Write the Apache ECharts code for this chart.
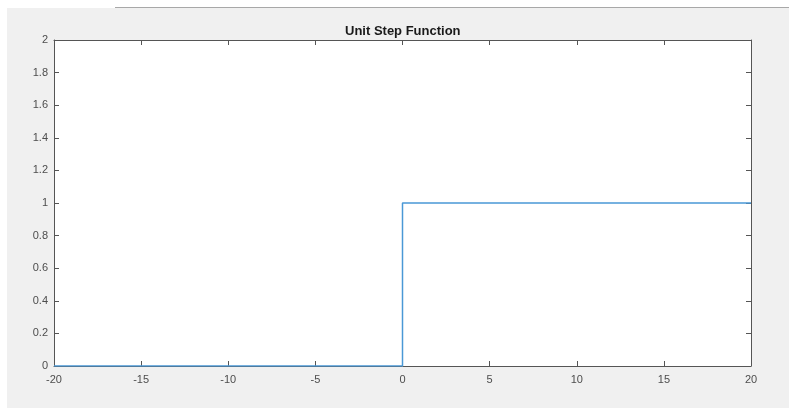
<!DOCTYPE html>
<html>
<head>
<meta charset="utf-8">
<script src="https://cdn.jsdelivr.net/npm/echarts@6/dist/echarts.min.js"></script>
<style>
html, body { margin: 0; padding: 0; background: #fff; }
#chart { width: 789px; height: 408px; }
</style>
</head>
<body>
<div id="chart"></div>
<script>
// step function samples
var t = [-20, 0, 0, 20];
var u = [0, 0, 1, 1];
var xTicks = { min: -20, max: 20, interval: 5 };
var yTicks = { min: 0, max: 2, interval: 0.2 };

var pts = [];
for (var i = 0; i < t.length; i++) {
	pts.push([t[i], u[i]]);
}

var axColor = '#555';
var labelStyle = { color: '#4d4d4d', fontSize: 11, fontFamily: 'Liberation Sans, Arial, sans-serif' };

function makeAxis(ticks, pos, showLabel, margin) {
	return {
		type: 'value', min: ticks.min, max: ticks.max, interval: ticks.interval,
		position: pos,
		axisLine: { show: true, onZero: false, lineStyle: { color: axColor, width: 1 } },
		axisTick: { show: true, inside: true, length: 5, lineStyle: { color: axColor, width: 1 } },
		axisLabel: { show: showLabel, margin: margin, color: labelStyle.color, fontSize: labelStyle.fontSize, fontFamily: labelStyle.fontFamily },
		splitLine: { show: false }
	};
}

var option = {
	animation: false,
	backgroundColor: '#fff',
	graphic: [
		{ type: 'rect', z: -10, shape: { x: 7, y: 8, width: 782, height: 400 }, style: { fill: '#f0f0f0' } },
		{ type: 'line', z: -5, shape: { x1: 115, y1: 7.5, x2: 789, y2: 7.5 }, style: { stroke: '#a8a8a8', lineWidth: 1 } },
		{ type: 'rect', z: -4, shape: { x: 54, y: 40, width: 697, height: 326 }, style: { fill: '#fff' } }
	],
	title: {
		text: 'Unit Step Function',
		left: 340,
		top: 20,
		textStyle: { fontSize: 13, fontWeight: 'bold', color: '#1a1a1a', fontFamily: 'Liberation Sans, Arial, sans-serif' }
	},
	grid: { left: 54, right: 38, top: 40, bottom: 42 },
	xAxis: [makeAxis(xTicks, 'bottom', true, 8), makeAxis(xTicks, 'top', false, 6)],
	yAxis: [makeAxis(yTicks, 'left', true, 6), makeAxis(yTicks, 'right', false, 6)],
	series: [
		{
			name: 'u',
			type: 'line',
			data: pts,
			showSymbol: false,
			symbol: 'none',
			z: 5,
			lineStyle: { color: '#4a98d6', width: 1.5 }
		}
	]
};

var chart = echarts.init(document.getElementById('chart'));
chart.setOption(option);
</script>
</body>
</html>
